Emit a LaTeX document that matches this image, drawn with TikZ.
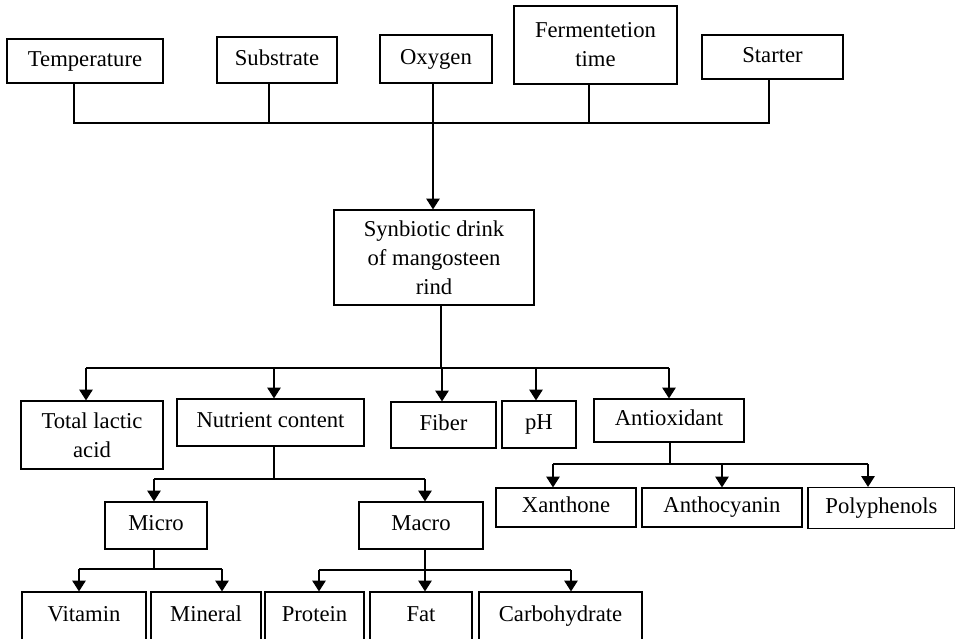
\documentclass[tikz,border=0pt]{standalone}
\usepackage{fontspec}
\setmainfont{Liberation Serif}
\usetikzlibrary{arrows.meta,calc}
\begin{document}
\begin{tikzpicture}[x=0.75pt,y=-0.75pt,
  bx/.style 2 args={draw, line width=0.9pt, inner sep=0pt, align=center,
    minimum width=#1*0.75pt, minimum height=#2*0.75pt,
    font=\fontsize{17}{21.75}\selectfont},
  sl/.style={text height=11.5pt, text depth=3.7pt},
  ln/.style={line width=0.85pt},
  arr/.style={ln, -{Triangle[width=10pt,length=8pt]}}]
\useasboundingbox (0,0) rectangle (955,638);

% top row
\node[bx={156}{44},sl] (temp) at (85,61) {Temperature};
\node[bx={120}{46},sl] (subs) at (277,60) {Substrate};
\node[bx={112}{48},sl] (oxy) at (436,59) {Oxygen};
\node[bx={163}{78}] (ferm) at (595.5,45) {Fermentetion\\time};
\node[bx={141}{44},sl] (start) at (772.5,57) {Starter};

% centre
\node[bx={200}{95}] (syn) at (434,257.5) {Synbiotic drink\\of mangosteen\\rind};

% second row
\node[bx={142}{68}] (tla) at (92,435) {Total lactic\\acid};
\node[bx={187}{47},sl] (nut) at (270.5,422.5) {Nutrient content};
\node[bx={105}{46},sl] (fib) at (443.5,425) {Fiber};
\node[bx={74}{47},sl] (ph) at (539,424.5) {pH};
\node[bx={150}{43},sl] (anti) at (669,420.5) {Antioxidant};

% antioxidant children
\node[bx={140}{39},sl] (xan) at (566,507.5) {Xanthone};
\node[bx={160}{39},sl] (anth) at (722,507.5) {Anthocyanin};
\node[bx={147}{41},sl] (poly) at (881.5,508) {Polyphenols};

% nutrient children
\node[bx={102}{47},sl] (micro) at (156,525.5) {Micro};
\node[bx={124}{47},sl] (macro) at (421,525.5) {Macro};

% bottom row
\node[bx={124}{48},sl] (vit) at (84,616) {Vitamin};
\node[bx={110}{48},sl] (mine) at (206,616) {Mineral};
\node[bx={99}{48},sl] (prot) at (314.5,616) {Protein};
\node[bx={102}{48},sl] (fat) at (421,616) {Fat};
\node[bx={163}{48},sl] (carb) at (560.5,616) {Carbohydrate};

% top bus
\coordinate (b1) at (74,123);
\coordinate (b5) at (769,123);
\coordinate (s2) at (269,123);
\coordinate (s3) at (433,123);
\coordinate (s4) at (589,123);
\draw[ln] (temp.south -| b1) -- (b1) -- (b5) -- (start.south -| b5);
\draw[ln] (subs.south -| s2) -- (s2);
\draw[ln] (ferm.south -| s4) -- (s4);
\draw[arr] (oxy.south -| s3) -- (syn.north -| s3);

% middle bus
\coordinate (m0) at (441,368);
\coordinate (m1) at (86,368);
\coordinate (m2) at (274,368);
\coordinate (m3) at (442,368);
\coordinate (m4) at (536,368);
\coordinate (m5) at (669,368);
\draw[ln] (syn.south -| m0) -- (m0);
\draw[ln] (m1) -- (m5);
\draw[arr] (m1) -- (tla.north -| m1);
\draw[arr] (m2) -- (nut.north -| m2);
\draw[arr] (m3) -- (fib.north -| m3);
\draw[arr] (m4) -- (ph.north -| m4);
\draw[arr] (m5) -- (anti.north -| m5);

% nutrient branch
\coordinate (n0) at (274,479);
\coordinate (n1) at (154,479);
\coordinate (n2) at (425,479);
\draw[ln] (nut.south -| n0) -- (n0);
\draw[ln] (n1) -- (n2);
\draw[arr] (n1) -- (micro.north -| n1);
\draw[arr] (n2) -- (macro.north -| n2);

% antioxidant branch
\coordinate (a0) at (670,464);
\coordinate (a1) at (553,464);
\coordinate (a2) at (722,464);
\coordinate (a3) at (868,464);
\draw[ln] (anti.south -| a0) -- (a0);
\draw[ln] (a1) -- (a3);
\draw[arr] (a1) -- (xan.north -| a1);
\draw[arr] (a2) -- (anth.north -| a2);
\draw[arr] (a3) -- (poly.north -| a3);

% micro branch
\coordinate (c0) at (154,569);
\coordinate (c1) at (79,569);
\coordinate (c2) at (222,569);
\draw[ln] (micro.south -| c0) -- (c0);
\draw[ln] (c1) -- (c2);
\draw[arr] (c1) -- (vit.north -| c1);
\draw[arr] (c2) -- (mine.north -| c2);

% macro branch
\coordinate (d0) at (425,570);
\coordinate (d1) at (319,570);
\coordinate (d3) at (571,570);
\draw[ln] (macro.south -| d0) -- (d0);
\draw[ln] (d1) -- (d3);
\draw[arr] (d1) -- (prot.north -| d1);
\draw[arr] (d0) -- (fat.north -| d0);
\draw[arr] (d3) -- (carb.north -| d3);
\end{tikzpicture}
\end{document}
